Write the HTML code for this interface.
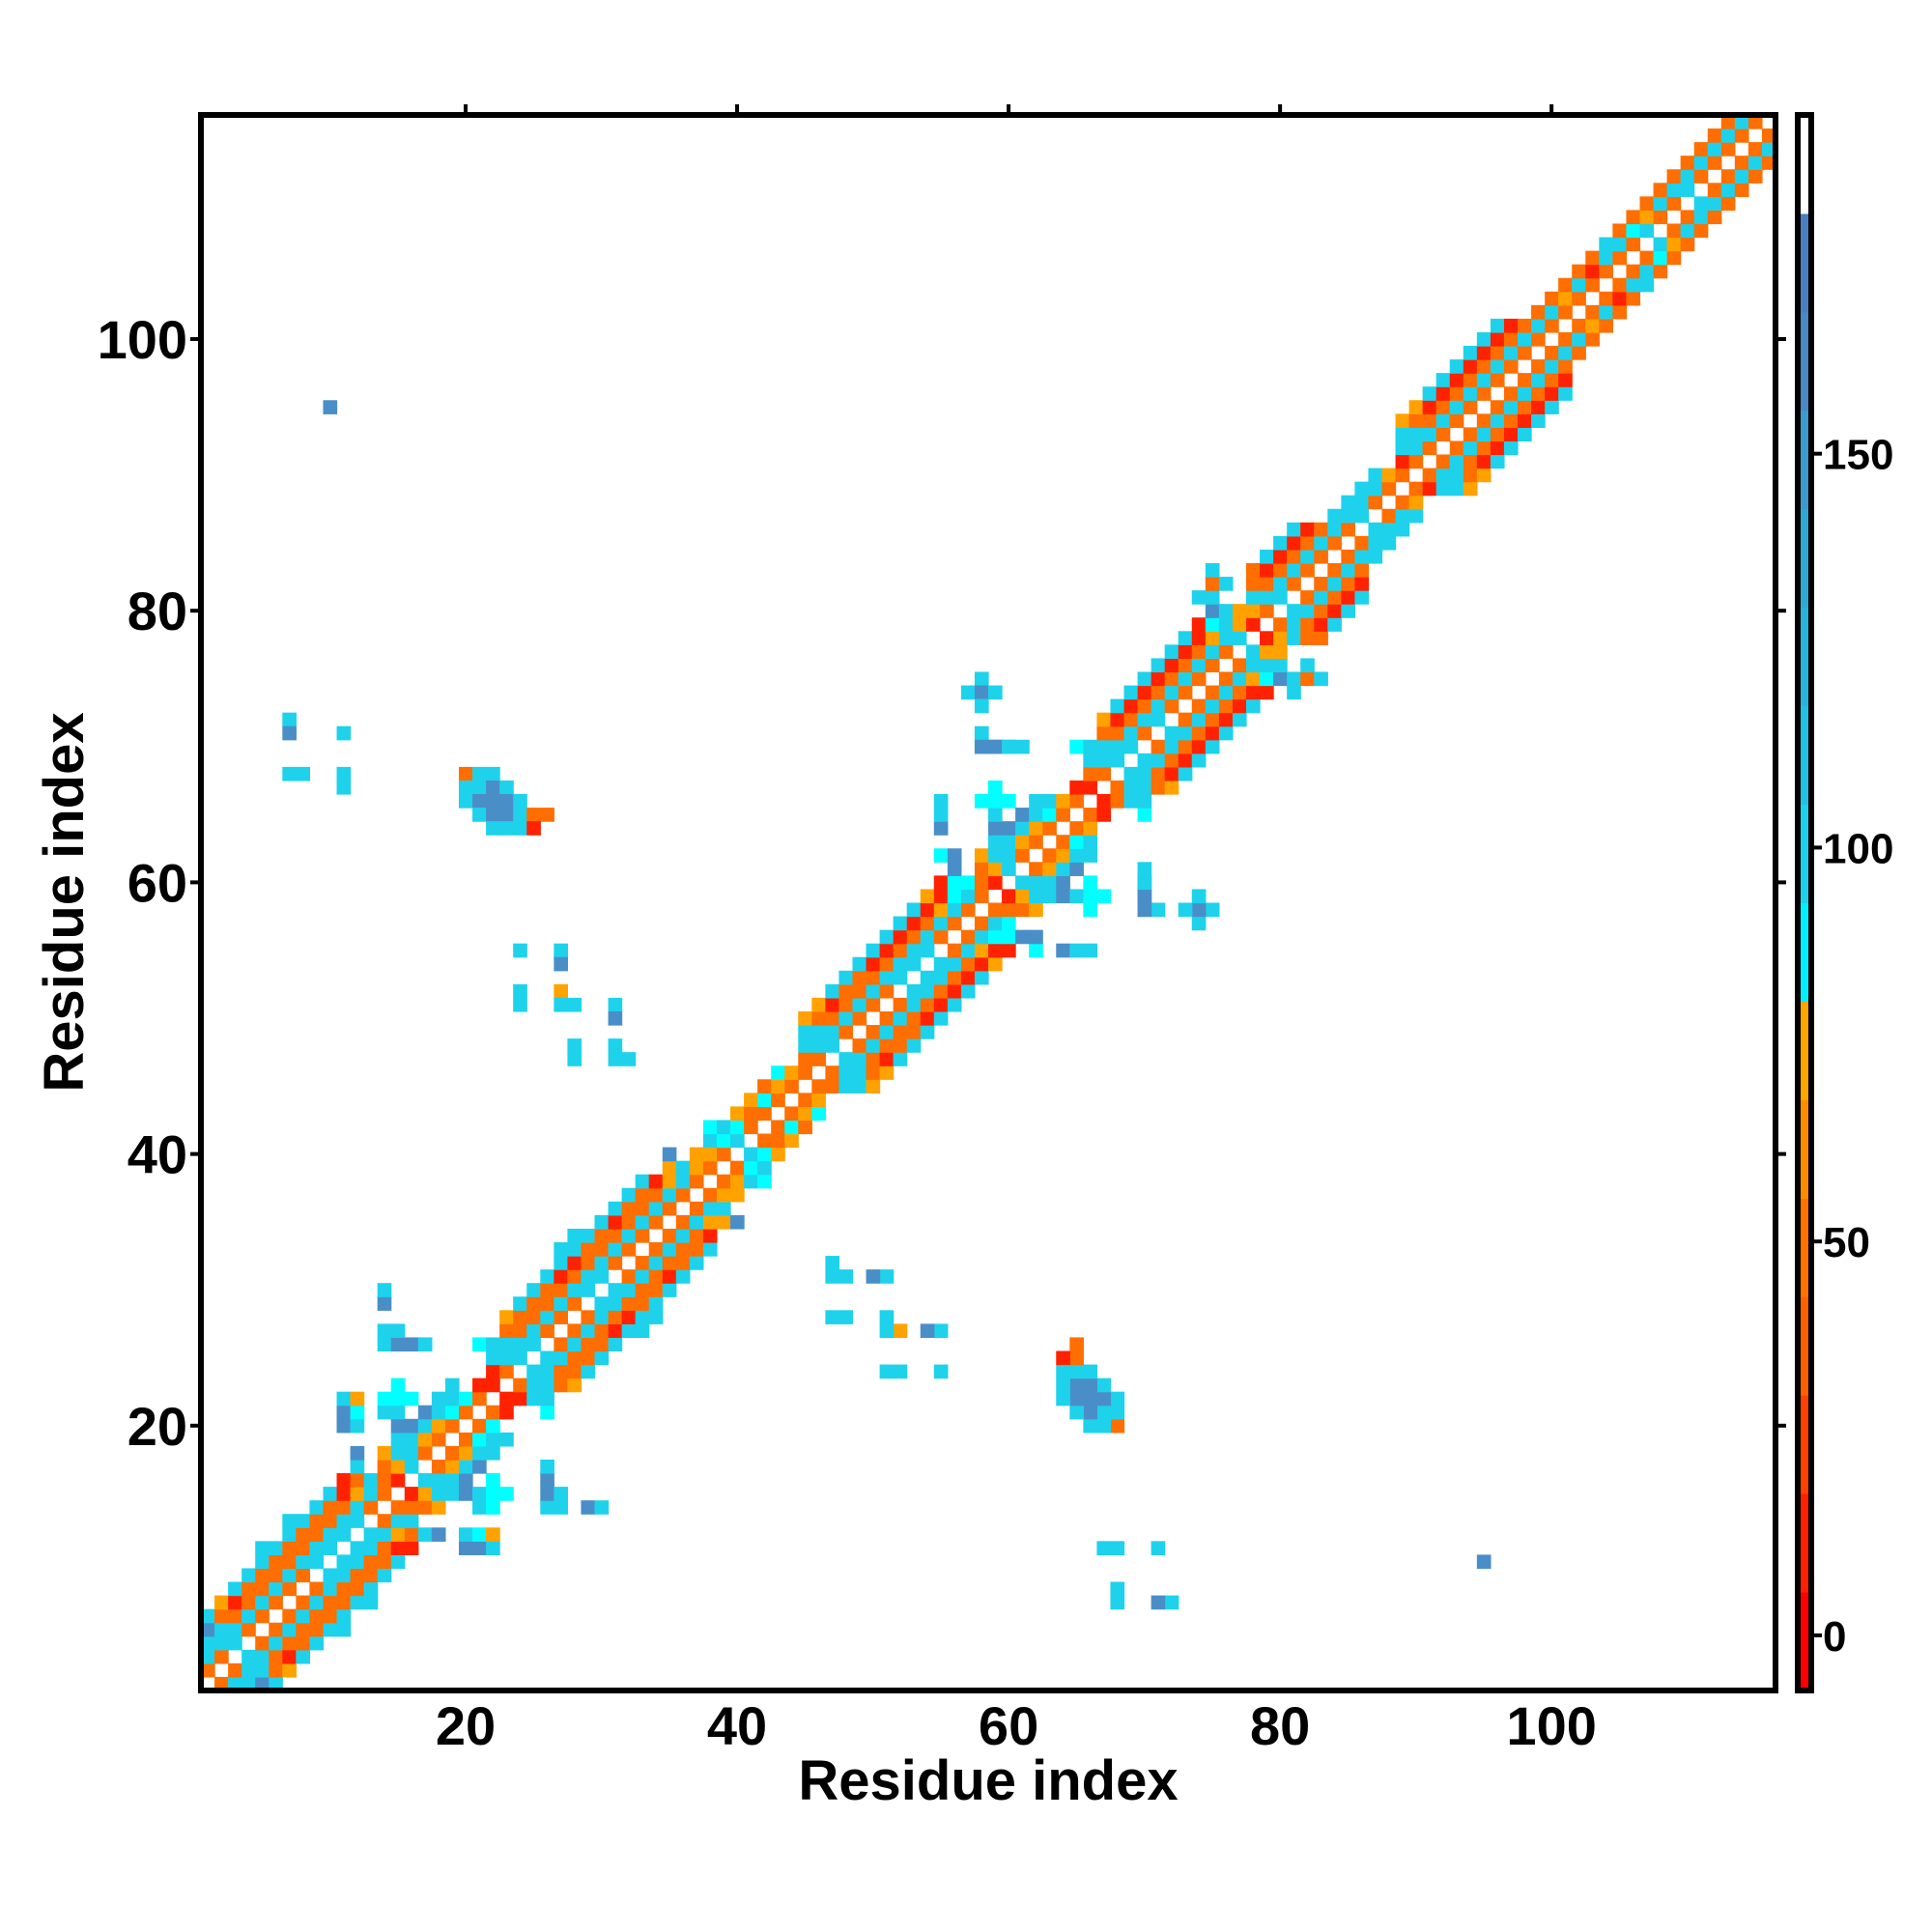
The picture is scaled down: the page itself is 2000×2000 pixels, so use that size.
<!DOCTYPE html>
<html><head><meta charset="utf-8"><title>Residue contact map</title>
<style>
html,body{margin:0;padding:0;background:#fff;}
svg{display:block;font-family:"Liberation Sans",Arial,sans-serif;font-weight:bold;}
</style></head>
<body>
<svg id="chart" xmlns="http://www.w3.org/2000/svg" width="2000" height="2000" viewBox="0 0 2000 2000">
<rect x="0" y="0" width="2000" height="2000" fill="#fff"/>
<g id="cells"></g>
<g id="frame"></g>
<g id="axes"></g>
<g id="cbar"></g>
<text x="1023" y="1863" text-anchor="middle" font-size="58">Residue index</text>
<text transform="translate(86,934) rotate(-90)" text-anchor="middle" font-size="58">Residue index</text>
</svg>
<script>
// Each row r: codes for columns r+1, r+2, ... ('.' = empty). Matrix is symmetric.
const rowCodes = [
"ottbt","ottoy","ttort","otoot","otoott","otoot","otoott","otoot","ttoot","ttoot",
"ttorr...bbt","ttyotb.tcy","ott","oooy..tc...t","ryttbtcc..b","tttb.c...b","oytb....t","oytt","octt","oc",
"or..c","rrtt","ottoy","ttoot","ttoot","otoot","otortt","otortt","ttoot","ttoot",
"otort","otoot","otoot","otor","otyyb","ott","oyy","oytc","oct","tcy",
"ooy","oco","oyc","oy","ootty","ottoy","ttort","otoot","otoot","otort",
"otort","ttort","ttort","ttory","otyrr.c.btt","otccbb","otc","oooy...c...t","ryttbtcc..b","tttb.c...b",
"oytb....t","oytt","oct","oy","or..c","rott","ottoy","ttort","ttort","otort",
"ttort","otort","otort","otorr.t","otycbtot","ottt.t","tyy","rytoo","otort","ttort",
"otort","otor","oto","ott","ott","ttt","ott","oy","ortty","ottoy",
"otort","otort","otort","otort","otort","otort","otor","oto","oto","oto",
"oyo","oto","oro","ott","oto","oco","tyo","oto","oto","tto",
"oto","oto","oto","ot","o"
];
// Off-diagonal contacts (mirrored too)
const extraX = [10,7,7,11,7,8,11,11,20,21,22,20,21,22,23,20,21,22,23,24,21,22,23,24,25,26,22,23,24,25,24,27,27,24,24,27,27,28,31,31,28,28,31,31,32,14,15,14,14,58,57,58,59,58,58,58,59,60];
const extraY = [95,72,71,71,68,68,68,67,68,68,68,67,67,67,67,66,66,66,66,66,65,65,65,65,65,65,64,64,64,64,55,55,54,52,51,52,51,51,51,50,48,47,48,47,47,27,27,29,30,75,74,74,74,73,71,70,70,70];
const extraCode = ["b","t","b","t","t","t","t","t","o","t","t","t","t","b","t","t","b","b","b","t","t","b","b","t","o","o","t","t","t","r","t","t","b","t","t","y","t","t","t","b","t","t","t","t","t","t","t","b","t","t","t","b","t","t","t","b","b","t"];
// Colorbar
const cbarTicks = [0,50,100,150];
const cbarColors = ["#ff0000","#ff2000","#ff4000","#ff6000","#ff7200","#ff8c00","#ffa500","#00f0ff","#1ed0ec","#22c0e4","#28b4dc","#30a8d4","#3a9ccc","#4a88c4","#4a7fc0","#ffffff"];
const axisTicks = [20,40,60,80,100];

const NS = "http://www.w3.org/2000/svg";
const X0 = 208, X1 = 1838, Y0 = 1750, Y1 = 119, DMIN = 0.5, DMAX = 116.5;
const colorMap = {o:"#ff6e00", r:"#ff2200", y:"#ffa200", t:"#1ed2ec", c:"#00ffff", b:"#4a8ec8"};
function xs(v){ return X0 + (v - DMIN) / (DMAX - DMIN) * (X1 - X0); }
function ys(v){ return Y0 - (v - DMIN) / (DMAX - DMIN) * (Y0 - Y1); }
const CB_MIN = -7, CB_MAX = 193, CB_TOP = 119, CB_BOT = 1750;
function cy(v){ return CB_BOT - (v - CB_MIN) / (CB_MAX - CB_MIN) * (CB_BOT - CB_TOP); }
function mk(tag, attrs){ const e = document.createElementNS(NS, tag); for (const k in attrs) e.setAttribute(k, attrs[k]); return e; }

const cells = document.getElementById("cells");
function cell(c, r, code){
  if (code === "." ) return;
  const w = xs(c + 0.5) - xs(c - 0.5);
  const el = mk("rect", {x: xs(c - 0.5), y: ys(r + 0.5), width: w + 0.6, height: w + 0.6, fill: colorMap[code]});
  
  
  cells.appendChild(el);
}
rowCodes.forEach(function(s, i){
  const r = i + 1;
  for (let k = 0; k < s.length; k++){
    const c = r + 1 + k;
    cell(c, r, s[k]);
    cell(r, c, s[k]);
  }
});
for (let i = 0; i < extraX.length; i++){
  cell(extraX[i], extraY[i], extraCode[i]);
  cell(extraY[i], extraX[i], extraCode[i]);
}

// frame
const frame = document.getElementById("frame");
const fr = mk("rect", {x: X0, y: Y1, width: X1 - X0, height: Y0 - Y1, fill: "none", stroke: "#000", "stroke-width": 6});


frame.appendChild(fr);

// axes ticks and labels
const axes = document.getElementById("axes");
axisTicks.forEach(function(v){
  const tx = mk("line", {x1: xs(v), x2: xs(v), y1: Y1 - 3, y2: Y1 - 11, stroke: "#000", "stroke-width": 4});
  
  
  axes.appendChild(tx);
  const tl = mk("line", {x1: X0 - 3, x2: X0 - 11, y1: ys(v), y2: ys(v), stroke: "#000", "stroke-width": 4});
  
  
  axes.appendChild(tl);
  const trr = mk("line", {x1: X1 + 3, x2: X1 + 11, y1: ys(v), y2: ys(v), stroke: "#000", "stroke-width": 4});
  
  
  axes.appendChild(trr);
  const lx = mk("text", {x: xs(v), y: 1806, "text-anchor": "middle", "font-size": 56});
  lx.textContent = String(v);
  
  
  axes.appendChild(lx);
  const ly = mk("text", {x: 194, y: ys(v) + 20, "text-anchor": "end", "font-size": 56});
  ly.textContent = String(v);
  
  
  axes.appendChild(ly);
});

// colorbar
const cbar = document.getElementById("cbar");
const step = (CB_MAX - CB_MIN) / cbarColors.length;
cbarColors.forEach(function(col, i){
  const yTop = cy(CB_MIN + (i + 1) * step), yBot = cy(CB_MIN + i * step);
  const b = mk("rect", {x: 1862, y: yTop, width: 12, height: yBot - yTop + 0.5, fill: col});
  
  
  cbar.appendChild(b);
});
const cbf = mk("rect", {x: 1861, y: CB_TOP, width: 14, height: CB_BOT - CB_TOP, fill: "none", stroke: "#000", "stroke-width": 6});


cbar.appendChild(cbf);
cbarTicks.forEach(function(v){
  const t = mk("line", {x1: 1877, x2: 1886, y1: cy(v), y2: cy(v), stroke: "#000", "stroke-width": 4});
  
  
  cbar.appendChild(t);
  const l = mk("text", {x: 1887, y: cy(v) + 16, "font-size": 44});
  l.textContent = String(v);
  
  
  cbar.appendChild(l);
});
</script>
</body></html>
